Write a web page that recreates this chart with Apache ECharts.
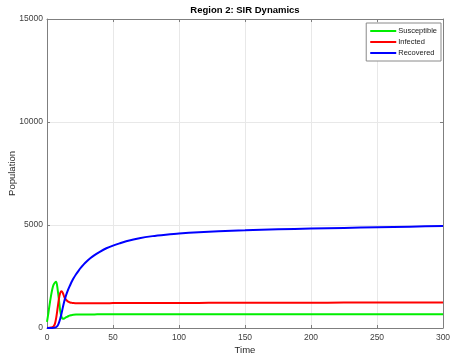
<!DOCTYPE html>
<html>
<head>
<meta charset="utf-8">
<script src="https://cdn.jsdelivr.net/npm/echarts@6/dist/echarts.min.js"></script>
<style>html,body{margin:0;padding:0;background:#fff;}#c{width:450px;height:358px;}</style>
</head>
<body>
<div id="c"></div>
<script>
var timePoints = [0,1,2,3,4,5,6,7,8,9,10,11,12,13,14,15,16,17,18,19,20,22,24,26,28,30,33,36,40,45,50,55,60,70,80,90,100,115,130,150,175,200,225,250,275,300];
var susceptible = [300,700,1150,1550,1880,2100,2200,2245,1900,1400,850,540,450,460,500,535,570,600,620,635,645,652,656,658,660,660,661,661,662,662,662,662,663,663,663,663,663,663,663,663,663,663,663,663,663,663];
var infected = [0,5,10,20,40,80,200,500,950,1400,1700,1780,1700,1520,1400,1330,1280,1250,1230,1220,1210,1205,1200,1200,1200,1200,1200,1202,1204,1206,1208,1210,1211,1213,1214,1215,1217,1219,1221,1224,1227,1230,1232,1235,1237,1240];
var recovered = [0,0,0,2,5,10,20,50,110,250,450,700,1000,1280,1500,1690,1860,2010,2150,2280,2400,2610,2790,2950,3100,3230,3400,3540,3700,3870,4000,4110,4210,4360,4460,4530,4590,4650,4700,4740,4790,4830,4860,4890,4920,4950];
var xTicks = [0,50,100,150,200,250,300];
var yTicks = [0,5000,10000,15000];

function pairs(ys){ return timePoints.map(function(t,i){ return [t, ys[i]]; }); }

var FONT = 'Liberation Sans, Arial, Helvetica, sans-serif';
var axisGray = '#7f7f7f';
var chart = echarts.init(document.getElementById('c'), null, {renderer:'canvas'});
var baseX = {
  type:'value', min:xTicks[0], max:xTicks[xTicks.length-1], interval:50,
  axisLine:{show:true, onZero:false, lineStyle:{color:axisGray, width:1}},
  axisTick:{show:true, inside:true, length:3, lineStyle:{color:axisGray}},
  splitLine:{show:true, lineStyle:{color:'#e8e8e8', width:1}}
};
var baseY = {
  type:'value', min:yTicks[0], max:yTicks[yTicks.length-1], interval:5000,
  axisLine:{show:true, onZero:false, lineStyle:{color:axisGray, width:1}},
  axisTick:{show:true, inside:true, length:3, lineStyle:{color:axisGray}},
  splitLine:{show:true, lineStyle:{color:'#e8e8e8', width:1}}
};
chart.setOption({
  animation:false,
  backgroundColor:'#ffffff',
  title:{text:'Region 2: SIR Dynamics', left:245, textAlign:'center', top:5, padding:0,
    textStyle:{fontFamily:FONT, fontSize:9.5, fontWeight:'bold', color:'#000'}},
  grid:{left:47, right:7, top:19, bottom:30, containLabel:false, outerBoundsMode:'none'},
  legend:{
    orient:'vertical', right:9, top:23, itemWidth:26, itemHeight:2, itemGap:3,
    icon:'rect', padding:[4,4,4,4], borderColor:'#8a8a8a', borderWidth:1,
    backgroundColor:'#fff',
    textStyle:{fontFamily:FONT, fontSize:7.5, color:'#222', padding:[0,0,0,-3]},
    data:['Susceptible','Infected','Recovered']
  },
  xAxis:[
    Object.assign({}, baseX, {position:'bottom', name:'Time', nameLocation:'middle', nameGap:17,
      nameMoveOverlap:false,
      nameTextStyle:{fontFamily:FONT, fontSize:9.5, color:'#262626'},
      axisLabel:{fontFamily:FONT, fontSize:8.5, color:'#404040', margin:5}}),
    Object.assign({}, baseX, {position:'top', axisLabel:{show:false}, splitLine:{show:false}})
  ],
  yAxis:[
    Object.assign({}, baseY, {position:'left', name:'Population', nameLocation:'middle', nameGap:30,
      nameMoveOverlap:false,
      nameTextStyle:{fontFamily:FONT, fontSize:9.5, color:'#262626'},
      axisLabel:{fontFamily:FONT, fontSize:8.5, color:'#404040', margin:4,
        formatter:function(v){ return String(v); }}}),
    Object.assign({}, baseY, {position:'right', axisLabel:{show:false}, splitLine:{show:false}})
  ],
  series:[
    {name:'Susceptible', type:'line', data:pairs(susceptible), showSymbol:false, smooth:0.25,
      lineStyle:{color:'#00ee00', width:2}, itemStyle:{color:'#00ee00'}},
    {name:'Infected', type:'line', data:pairs(infected), showSymbol:false, smooth:0.25,
      lineStyle:{color:'#ff0000', width:2}, itemStyle:{color:'#ff0000'}},
    {name:'Recovered', type:'line', data:pairs(recovered), showSymbol:false, smooth:0.25,
      lineStyle:{color:'#0000ff', width:2}, itemStyle:{color:'#0000ff'}}
  ]
});
</script>
</body>
</html>
